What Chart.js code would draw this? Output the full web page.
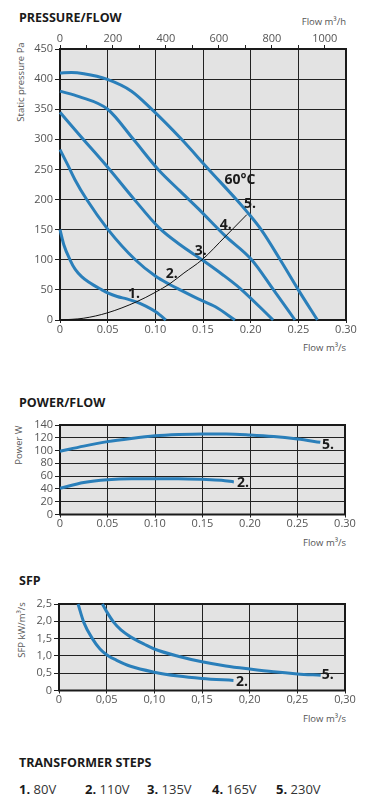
<!DOCTYPE html>
<html>
<head>
<meta charset="utf-8">
<script src="https://cdn.jsdelivr.net/npm/chart.js@4.4.1/dist/chart.umd.min.js"></script>
<style>
  body { margin: 0; background: #fff; font-family: 'Open Sans', sans-serif; }
  #page { position: relative; width: 375px; height: 803px; overflow: hidden; }
  canvas { position: absolute; left: 0; }
  .t { position: absolute; white-space: nowrap; line-height: 16px; color: #1a1a1a; }
  .head { left: 19px; font-size: 12.5px; font-weight: 700; }
  .ax { font-size: 9.5px; color: #555; }
  .axr { right: 29px; text-align: right; }
  .rot { transform: translate(-50%, -50%) rotate(-90deg); }
  .steps { left: 19px; font-size: 13px; color: #333; }
  .steps span { position: absolute; }
  .steps b { color: #1a1a1a; }
</style>
</head>
<body>
<div id="page">
  <div class="t head" style="top:10px">PRESSURE/FLOW</div>
  <div class="t ax axr" style="top:14px">Flow m³/h</div>
  <div class="t ax rot" style="left:21px; top:82px">Static pressure Pa</div>
  <div class="t ax axr" style="top:340px">Flow m³/s</div>
  <canvas id="chartPressure" width="375" height="360" style="top:0"></canvas>

  <div class="t head" style="top:395px">POWER/FLOW</div>
  <div class="t ax rot" style="left:19px; top:445px">Power W</div>
  <div class="t ax axr" style="top:535px">Flow m³/s</div>
  <canvas id="chartPower" width="375" height="130" style="top:410px"></canvas>

  <div class="t head" style="top:573px">SFP</div>
  <div class="t ax rot" style="left:22px; top:630px">SFP kW/m³/s</div>
  <div class="t ax axr" style="top:711px">Flow m³/s</div>
  <canvas id="chartSfp" width="375" height="125" style="top:590px"></canvas>

  <div class="t head" style="top:755px">TRANSFORMER STEPS</div>
  <div class="t steps" style="top:781px; width:340px; height:16px">
    <span style="left:0"><b>1.</b> 80V</span>
    <span style="left:66px"><b>2.</b> 110V</span>
    <span style="left:128px"><b>3.</b> 135V</span>
    <span style="left:193px"><b>4.</b> 165V</span>
    <span style="left:257px"><b>5.</b> 230V</span>
  </div>
</div>

<script>
(function () {
    // pressure / flow curves per transformer step (flow m3/s, static pressure Pa)
    const step1Flow = [0, 0.004, 0.0105, 0.016, 0.0227, 0.03, 0.044, 0.05, 0.06, 0.07, 0.08, 0.09, 0.10, 0.105, 0.111];
    const step1Pa   = [150, 125, 100, 84, 72, 63, 50, 45, 39, 35, 30, 23, 14, 8, 0];
    const step2Flow = [0, 0.008, 0.0157, 0.028, 0.05, 0.079, 0.10, 0.115, 0.126, 0.145, 0.163, 0.1835];
    const step2Pa   = [283, 258, 233, 200, 151, 100, 73, 59, 50, 35, 22, 0];
    const step3Flow = [0, 0.02, 0.052, 0.077, 0.104, 0.126, 0.149, 0.17, 0.19, 0.2235];
    const step3Pa   = [345, 308, 250, 202, 153, 125, 100, 76, 51, 0];
    const step4Flow = [0, 0.02, 0.05, 0.077, 0.103, 0.126, 0.145, 0.173, 0.201, 0.224, 0.2465];
    const step4Pa   = [380, 371, 350, 300, 250, 214, 185, 140, 100, 50, 0];
    const step5Flow = [0, 0.012, 0.025, 0.049, 0.075, 0.0975, 0.1275, 0.156, 0.185, 0.196, 0.211, 0.231, 0.25, 0.27];
    const step5Pa   = [410, 411, 409, 400, 380, 348, 300, 250, 200, 180, 150, 100, 50, 0];
    // system curve (thin black)
    const systemFlow = [0, 0.025, 0.05, 0.08, 0.10, 0.115, 0.13, 0.149, 0.173, 0.196];
    const systemPa   = [0, 3, 12, 30, 46, 60, 78, 100, 138, 175];

    // power / flow (W)
    const power5Flow = [0, 0.025, 0.05, 0.075, 0.10, 0.125, 0.15, 0.175, 0.20, 0.225, 0.25, 0.274];
    const power5W    = [99, 107, 114, 119, 123, 125, 126, 126, 124.5, 122, 118, 113];
    const power2Flow = [0, 0.025, 0.05, 0.075, 0.10, 0.125, 0.15, 0.17, 0.183];
    const power2W    = [41, 50, 54.5, 56, 56, 56, 55, 53.5, 51];

    // SFP kW/m3/s
    const sfp5Flow = [0.0455, 0.05, 0.0577, 0.065, 0.075, 0.09, 0.10, 0.125, 0.15, 0.175, 0.20, 0.225, 0.25, 0.2745];
    const sfp5Val  = [2.5, 2.28, 1.96, 1.75, 1.55, 1.33, 1.2, 0.99, 0.83, 0.71, 0.62, 0.54, 0.48, 0.44];
    const sfp2Flow = [0.02, 0.026, 0.035, 0.043, 0.0507, 0.06, 0.075, 0.10, 0.125, 0.15, 0.183];
    const sfp2Val  = [2.5, 1.97, 1.5, 1.2, 1.02, 0.88, 0.7, 0.53, 0.42, 0.35, 0.29];

    // curve labels in data coordinates
    const pressureLabelText = ['1.', '2.', '3.', '4.', '5.', '60°C'];
    const pressureLabelFlow = [0.0776, 0.1172, 0.1477, 0.1739, 0.1993, 0.1888];
    const pressureLabelPa   = [43, 76, 115, 157, 193, 233];
    const powerLabelText = ['5.', '2.'];
    const powerLabelFlow = [0.282, 0.1926];
    const powerLabelW    = [108.7, 49.3];
    const sfpLabelText = ['5.', '2.'];
    const sfpLabelFlow = [0.282, 0.192];
    const sfpLabelVal  = [0.448, 0.246];

    const blue = '#2a7fba';
    const gridColor = '#222';

    Chart.defaults.font.family = "'Open Sans', sans-serif";
    Chart.defaults.color = '#555';

    function pts(xs, ys) { return xs.map((x, i) => ({ x: x, y: ys[i] })); }
    function curve(xs, ys, color, width) {
        return { data: pts(xs, ys), borderColor: color || blue, borderWidth: width || 3, pointRadius: 0,
                 cubicInterpolationMode: 'monotone', fill: false, clip: 2 };
    }

    // grey plot area + frame
    const plotFrame = {
        id: 'plotFrame',
        beforeDraw(chart) {
            const a = chart.chartArea, ctx = chart.ctx;
            ctx.save();
            ctx.fillStyle = '#e3e3e3';
            ctx.fillRect(a.left, a.top, a.right - a.left, a.bottom - a.top);
            ctx.restore();
        },
        beforeDatasetsDraw(chart) {
            const a = chart.chartArea, ctx = chart.ctx;
            ctx.save();
            ctx.strokeStyle = '#1a1a1a';
            ctx.lineWidth = 2;
            ctx.strokeRect(a.left, a.top, a.right - a.left, a.bottom - a.top);
            ctx.restore();
        }
    };

    // text labels next to curves
    const curveLabels = {
        id: 'curveLabels',
        afterDatasetsDraw(chart, args, opts) {
            if (!opts.text) return;
            const ctx = chart.ctx, xs = chart.scales.x, ys = chart.scales.y;
            ctx.save();
            ctx.font = 'bold 14px "Open Sans", sans-serif';
            ctx.fillStyle = '#1a1a1a';
            ctx.textAlign = 'center';
            ctx.textBaseline = 'middle';
            opts.text.forEach((t, i) => {
                ctx.fillText(t, xs.getPixelForValue(opts.xs[i]), ys.getPixelForValue(opts.ys[i]));
            });
            ctx.restore();
        }
    };

    function makeChart(id, datasets, cfg) {
        const scales = {
            x: {
                type: 'linear', position: 'bottom', min: 0, max: 0.30,
                afterFit(s) { s.height = cfg.bottomH; },
                grid: { color: gridColor, lineWidth: 1, tickLength: 3 },
                border: { display: false },
                ticks: { stepSize: 0.05, autoSkip: false, maxRotation: 0, padding: 1,
                         font: { size: 11, lineHeight: 1 }, callback: cfg.xFmt }
            },
            y: {
                type: 'linear', position: 'left', min: cfg.yMin, max: cfg.yMax,
                afterFit(s) { s.width = cfg.leftW; },
                grid: { color: gridColor, lineWidth: 1, tickLength: 5 },
                border: { display: false },
                ticks: { stepSize: cfg.yStep, autoSkip: false, padding: 2,
                         font: { size: 11, lineHeight: 1 }, callback: cfg.yFmt }
            }
        };
        if (cfg.topAxis) {
            scales.xTop = {
                type: 'linear', position: 'top', min: 0, max: 1080,
                afterFit(s) { s.height = cfg.topH; },
                grid: { drawOnChartArea: false, color: gridColor, tickLength: 4 },
                border: { display: false },
                ticks: { stepSize: 100, autoSkip: false, includeBounds: false, maxRotation: 0, padding: 1,
                         font: { size: 11, lineHeight: 1 },
                         callback: v => (v % 200 === 0 ? String(v) : '') }
            };
        }
        return new Chart(document.getElementById(id).getContext('2d'), {
            type: 'line',
            data: { datasets: datasets },
            options: {
                responsive: false, animation: false, parsing: true,
                layout: { padding: { left: 0, right: cfg.rightPad, top: cfg.padTop, bottom: 0 } },
                plugins: { legend: { display: false }, tooltip: { enabled: false },
                           curveLabels: cfg.labels },
                scales: scales
            },
            plugins: [plotFrame, curveLabels]
        });
    }

    const flowFmt = v => (v === 0 ? '0' : v.toFixed(2));
    const flowFmtComma = v => (v === 0 ? '0' : v.toFixed(2).replace('.', ','));

    makeChart('chartPressure', [
        curve(systemFlow, systemPa, '#111', 1),
        curve(step1Flow, step1Pa),
        curve(step2Flow, step2Pa),
        curve(step3Flow, step3Pa),
        curve(step4Flow, step4Pa),
        curve(step5Flow, step5Pa)
    ], {
        yMin: 0, yMax: 450, yStep: 50, yFmt: v => String(v), xFmt: flowFmt,
        leftW: 60, rightPad: 29, padTop: 0, topAxis: true, topH: 49, bottomH: 40,
        labels: { text: pressureLabelText, xs: pressureLabelFlow, ys: pressureLabelPa }
    });

    makeChart('chartPower', [
        curve(power5Flow, power5W),
        curve(power2Flow, power2W)
    ], {
        yMin: 0, yMax: 140, yStep: 20, yFmt: v => String(v), xFmt: flowFmt,
        leftW: 60, rightPad: 30, padTop: 15, topAxis: false, bottomH: 25.5,
        labels: { text: powerLabelText, xs: powerLabelFlow, ys: powerLabelW }
    });

    makeChart('chartSfp', [
        curve(sfp5Flow, sfp5Val),
        curve(sfp2Flow, sfp2Val)
    ], {
        yMin: 0, yMax: 2.5, yStep: 0.5, yFmt: v => (v === 0 ? '0' : v.toFixed(1).replace('.', ',')),
        xFmt: flowFmtComma,
        leftW: 59, rightPad: 30, padTop: 14, topAxis: false, bottomH: 24.5,
        labels: { text: sfpLabelText, xs: sfpLabelFlow, ys: sfpLabelVal }
    });
})();
</script>
</body>
</html>
